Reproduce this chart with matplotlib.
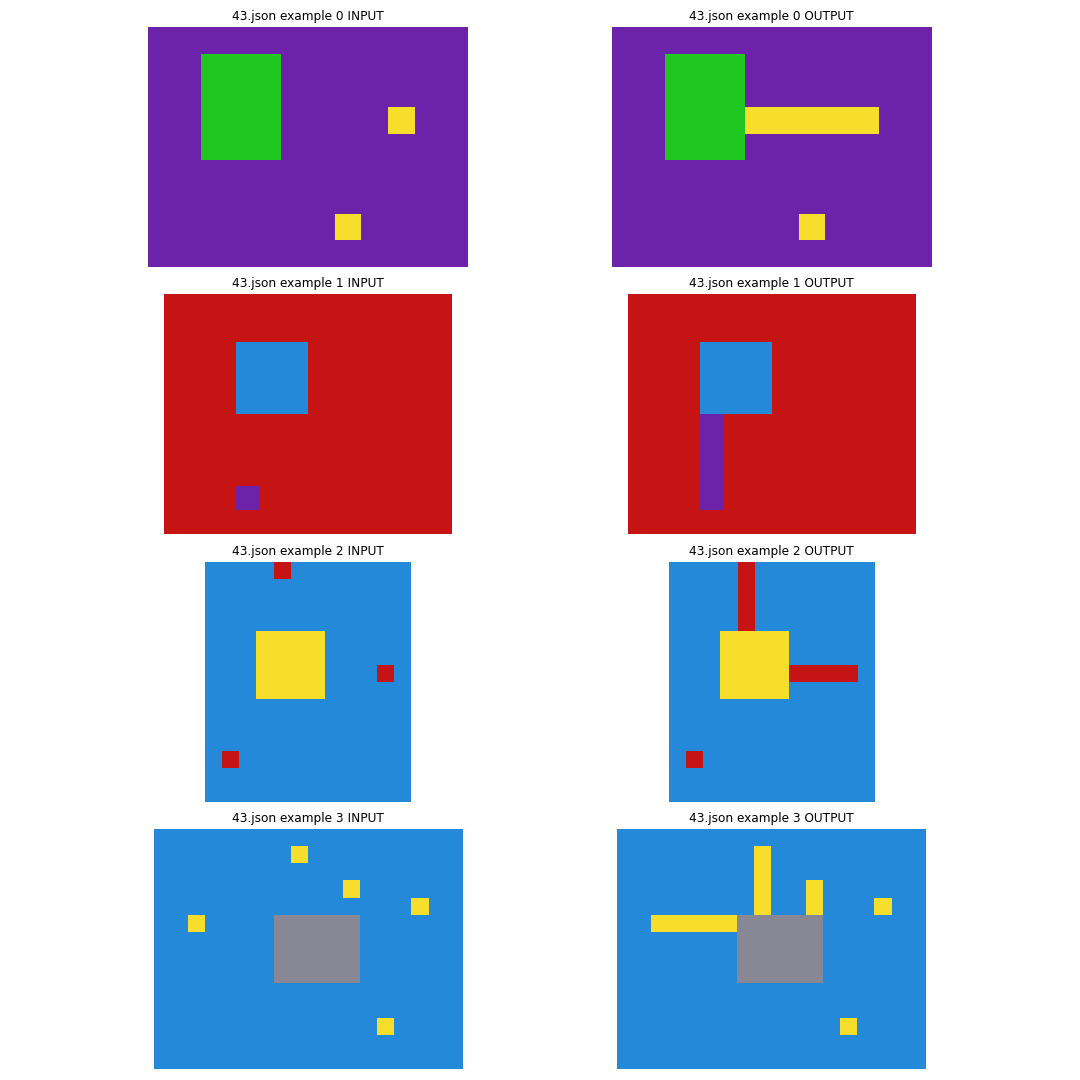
import numpy as np
import matplotlib
matplotlib.use("Agg")
import matplotlib.pyplot as plt
from matplotlib.colors import ListedColormap

# colour index -> hex
palette = ["#252525", "#2589DA", "#C61313", "#20C71F", "#F7DE2A",
           "#888796", "#E43DAC", "#F68722", "#7FDBF7", "#6C23A9"]

# example 0: 9 x 12, purple background
ex0_in = np.full((9, 12), 9)
ex0_in[1:5, 2:5] = 3
ex0_in[3, 9] = 4
ex0_in[7, 7] = 4
ex0_out = ex0_in.copy()
ex0_out[3, 5:10] = 4

# example 1: 10 x 12, red background
ex1_in = np.full((10, 12), 2)
ex1_in[2:5, 3:6] = 1
ex1_in[8, 3] = 9
ex1_out = ex1_in.copy()
ex1_out[5:9, 3] = 9

# example 2: 14 x 12, blue background
ex2_in = np.full((14, 12), 1)
ex2_in[0, 4] = 2
ex2_in[4:8, 3:7] = 4
ex2_in[6, 10] = 2
ex2_in[11, 1] = 2
ex2_out = ex2_in.copy()
ex2_out[0:4, 4] = 2
ex2_out[6, 7:11] = 2

# example 3: 14 x 18, blue background
ex3_in = np.full((14, 18), 1)
ex3_in[5:9, 7:12] = 5
ex3_in[1, 8] = 4
ex3_in[3, 11] = 4
ex3_in[4, 15] = 4
ex3_in[5, 2] = 4
ex3_in[11, 13] = 4
ex3_out = ex3_in.copy()
ex3_out[1:5, 8] = 4
ex3_out[3:5, 11] = 4
ex3_out[5, 2:7] = 4

pairs = [(ex0_in, ex0_out), (ex1_in, ex1_out), (ex2_in, ex2_out), (ex3_in, ex3_out)]

cmap = ListedColormap(palette)
fig, axes = plt.subplots(4, 2, figsize=(10.8, 10.8), dpi=100)
for i, (gin, gout) in enumerate(pairs):
    for j, (g, tag) in enumerate([(gin, "INPUT"), (gout, "OUTPUT")]):
        ax = axes[i, j]
        ax.imshow(g, cmap=cmap, vmin=0, vmax=9, interpolation="nearest")
        ax.set_title("43.json example %d %s" % (i, tag), fontsize=8.7, pad=5)
        ax.axis("off")

fig.subplots_adjust(left=0.0815, right=0.9185, top=0.975, bottom=0.0102,
                    wspace=0.052, hspace=0.114)
fig.savefig("out.png", dpi=100)
